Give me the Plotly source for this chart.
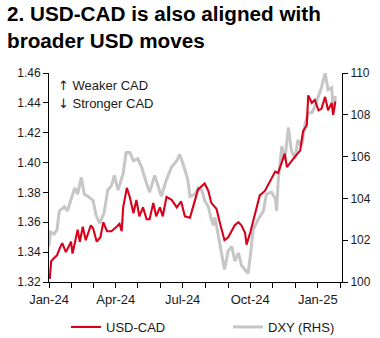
import plotly.graph_objects as go

# ---------------- data ----------------
usdcad_dates = [
    "2024-01-02", "2024-01-04", "2024-01-08", "2024-01-12", "2024-01-16", "2024-01-19", "2024-01-24", "2024-01-29", "2024-01-31",
    "2024-02-02", "2024-02-06", "2024-02-09", "2024-02-12", "2024-02-16", "2024-02-20", "2024-02-23", "2024-02-27",
    "2024-03-01", "2024-03-06", "2024-03-11", "2024-03-15", "2024-03-20", "2024-03-26",
    "2024-04-02", "2024-04-06", "2024-04-09", "2024-04-11", "2024-04-16", "2024-04-20", "2024-04-25", "2024-04-29",
    "2024-05-03", "2024-05-08", "2024-05-13", "2024-05-17", "2024-05-22", "2024-05-26", "2024-05-31",
    "2024-06-04", "2024-06-09", "2024-06-16", "2024-06-23", "2024-06-29",
    "2024-07-04", "2024-07-11", "2024-07-15", "2024-07-22", "2024-07-31",
    "2024-08-05", "2024-08-09", "2024-08-16", "2024-08-21", "2024-08-27",
    "2024-09-01", "2024-09-06", "2024-09-10", "2024-09-15", "2024-09-19", "2024-09-24", "2024-09-26",
    "2024-10-01", "2024-10-07", "2024-10-14", "2024-10-21", "2024-10-28",
    "2024-11-04", "2024-11-08", "2024-11-13", "2024-11-17", "2024-11-20", "2024-11-26",
    "2024-12-01", "2024-12-08", "2024-12-12", "2024-12-17", "2024-12-19", "2024-12-24", "2024-12-28",
    "2025-01-02", "2025-01-06", "2025-01-11", "2025-01-15", "2025-01-20", "2025-01-22", "2025-01-25",
]
usdcad_values = [
    1.322, 1.334, 1.336, 1.338, 1.343, 1.346, 1.340, 1.345, 1.347,
    1.339, 1.348, 1.355, 1.347, 1.357, 1.348, 1.352, 1.358,
    1.356, 1.347, 1.350, 1.360, 1.354, 1.354,
    1.357, 1.359, 1.354, 1.370, 1.383, 1.377, 1.366, 1.375,
    1.364, 1.370, 1.362, 1.362, 1.373, 1.364, 1.370,
    1.364, 1.377, 1.375, 1.370, 1.374,
    1.364, 1.363, 1.370, 1.382, 1.386,
    1.381, 1.373, 1.369, 1.359, 1.348,
    1.350, 1.355, 1.358, 1.360, 1.358, 1.353, 1.345,
    1.353, 1.364, 1.378, 1.381, 1.388,
    1.394, 1.393, 1.401, 1.406, 1.397, 1.401,
    1.404, 1.408, 1.421, 1.425, 1.445, 1.440, 1.442,
    1.435, 1.436, 1.444, 1.435, 1.440, 1.432, 1.441,
]

dxy_dates = [
    "2024-01-01", "2024-01-03", "2024-01-08", "2024-01-12", "2024-01-15", "2024-01-22", "2024-01-26", "2024-01-31",
    "2024-02-05", "2024-02-09", "2024-02-14", "2024-02-18", "2024-02-23",
    "2024-03-01", "2024-03-05", "2024-03-10", "2024-03-16", "2024-03-21", "2024-03-26", "2024-03-30",
    "2024-04-04", "2024-04-11", "2024-04-15", "2024-04-20", "2024-04-25",
    "2024-05-01", "2024-05-06", "2024-05-13", "2024-05-17", "2024-05-24", "2024-05-29",
    "2024-06-02", "2024-06-09", "2024-06-16", "2024-06-23", "2024-06-27",
    "2024-07-02", "2024-07-08", "2024-07-11", "2024-07-18", "2024-07-22", "2024-07-27", "2024-07-31",
    "2024-08-05", "2024-08-09", "2024-08-12", "2024-08-14", "2024-08-18", "2024-08-23", "2024-08-27",
    "2024-09-01", "2024-09-06", "2024-09-10", "2024-09-15", "2024-09-19", "2024-09-24", "2024-09-28",
    "2024-10-01", "2024-10-05", "2024-10-12", "2024-10-19", "2024-10-23", "2024-10-30",
    "2024-11-04", "2024-11-06", "2024-11-08", "2024-11-13", "2024-11-17", "2024-11-22", "2024-11-26",
    "2024-12-01", "2024-12-05", "2024-12-10", "2024-12-15", "2024-12-19", "2024-12-24", "2024-12-28",
    "2025-01-02", "2025-01-06", "2025-01-11", "2025-01-15", "2025-01-20", "2025-01-22", "2025-01-25",
]
dxy_values = [
    101.7, 102.4, 102.3, 102.5, 103.4, 103.6, 103.4, 103.9,
    104.5, 104.2, 105.0, 104.2, 104.1,
    103.9, 103.2, 102.8, 103.3, 104.4, 104.6, 105.1,
    104.4, 105.2, 106.2, 106.2, 105.8,
    105.9, 105.5, 104.7, 104.3, 105.1, 104.6,
    104.1, 104.9, 105.5, 105.8, 106.1,
    105.6, 104.9, 104.1, 104.2, 104.5, 104.4, 103.9,
    103.6, 103.0, 102.7, 103.1, 102.3, 101.2, 100.6,
    101.5, 101.7, 101.0, 101.4, 100.8, 100.6, 100.4,
    101.2, 102.5, 103.0, 103.4, 104.2, 104.3,
    104.0, 103.4, 104.8, 106.5, 105.8, 107.4, 106.3,
    105.9, 106.8, 106.5, 107.6, 108.1, 108.1, 108.4,
    108.9, 109.3, 110.0, 109.2, 109.3, 108.1, 108.9,
]

x_tickvals = ["2024-01-01", "2024-04-01", "2024-07-01", "2024-10-01", "2025-01-01"]
x_ticktext = ["Jan-24", "Apr-24", "Jul-24", "Oct-24", "Jan-25"]
left_ticks = [1.32, 1.34, 1.36, 1.38, 1.40, 1.42, 1.44, 1.46]
right_ticks = [100, 102, 104, 106, 108, 110]

FONT = "Liberation Sans, Arial, sans-serif"
TXT = "#1a1a1a"
RED = "#D9001B"
GREY = "#C6C6C6"

fig = go.Figure()
# DXY on primary (drawn below), USD-CAD on overlaying axis (drawn on top)
fig.add_trace(go.Scatter(
    x=dxy_dates, y=dxy_values, name="DXY (RHS)", mode="lines",
    line=dict(color=GREY, width=3), yaxis="y", legend="legend2",
))
fig.add_trace(go.Scatter(
    x=usdcad_dates, y=usdcad_values, name="USD-CAD", mode="lines",
    line=dict(color=RED, width=2.1), yaxis="y2", legend="legend",
))

axis_common = dict(
    showgrid=False, zeroline=False, showline=True, linecolor="black", linewidth=1,
    ticks="outside", ticklen=5, tickcolor="black", tickwidth=1,
)

legend_common = dict(
    orientation="h", xanchor="left", xref="container",
    yanchor="middle", yref="container",
    font=dict(family=FONT, size=13, color=TXT),
    bgcolor="rgba(0,0,0,0)",
)

ARROW = "<span style='font-family:DejaVu Sans'>{}</span>"

fig.update_layout(
    width=380, height=338,
    margin=dict(l=49, r=38, t=73, b=56, autoexpand=False),
    paper_bgcolor="white", plot_bgcolor="white",
    font=dict(family=FONT, color=TXT),
    title=dict(
        text="<b>2. USD-CAD is also aligned with<br>broader USD moves</b>",
        font=dict(family=FONT, size=20.7, color="black"),
        x=7 / 380, xanchor="left", xref="container",
        y=1 - 21 / 338, yanchor="top", yref="container",
    ),
    xaxis=dict(
        **axis_common,
        tickfont=dict(family=FONT, size=13, color=TXT),
        type="date", range=["2024-01-01", "2025-02-03"],
        tickmode="array", tickvals=x_tickvals, ticktext=x_ticktext,
        minor=dict(dtick="M1", tick0="2024-01-01", ticks="outside", ticklen=5, tickcolor="black"),
    ),
    yaxis=dict(
        **axis_common,
        tickfont=dict(family=FONT, size=12, color=TXT),
        side="right", range=[100, 110], tickvals=right_ticks,
    ),
    yaxis2=dict(
        **axis_common,
        tickfont=dict(family=FONT, size=12, color=TXT),
        side="left", overlaying="y", range=[1.32, 1.46], tickvals=left_ticks,
        tickformat=".2f",
    ),
    legend=dict(**legend_common, x=66 / 380, y=(338 - 327) / 338),
    legend2=dict(**legend_common, x=228 / 380, y=(338 - 327) / 338),
    showlegend=True,
    annotations=[
        dict(text=ARROW.format("↑") + " Weaker CAD", xref="paper", yref="paper",
             x=(56 - 49) / 293, y=(282 - 85) / 209, xanchor="left", yanchor="middle",
             showarrow=False, font=dict(family=FONT, size=13, color=TXT)),
        dict(text=ARROW.format("↓") + " Stronger CAD", xref="paper", yref="paper",
             x=(56 - 49) / 293, y=(282 - 103) / 209, xanchor="left", yanchor="middle",
             showarrow=False, font=dict(family=FONT, size=13, color=TXT)),
    ],
)

fig.write_html("out.html")
